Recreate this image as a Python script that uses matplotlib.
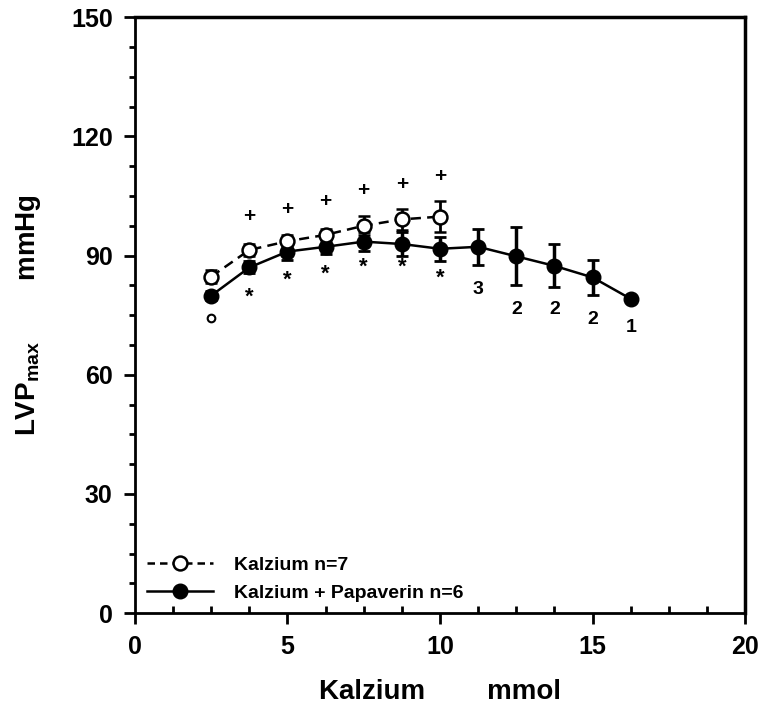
import matplotlib.pyplot as plt
from matplotlib.ticker import MultipleLocator
from matplotlib.lines import Line2D

plt.rcParams['font.family'] = ['Liberation Sans', 'DejaVu Sans']
plt.rcParams['font.weight'] = 'bold'

# Kalzium n=7 (offene Kreise)
x_ca = [2.5, 3.75, 5, 6.25, 7.5, 8.75, 10]
y_ca = [84.7, 91.4, 93.6, 95.2, 97.5, 99.1, 99.8]
err_ca = [1.6, 1.5, 1.5, 1.6, 2.4, 2.6, 3.8]

# Kalzium + Papaverin n=6 (gefuellte Kreise)
x_pap = [2.5, 3.75, 5, 6.25, 7.5, 8.75, 10, 11.25, 12.5, 13.75, 15, 16.25]
y_pap = [79.9, 87.0, 91.0, 92.2, 93.5, 92.9, 91.7, 92.2, 89.8, 87.4, 84.5, 79.1]
err_pap = [1.2, 1.5, 2.1, 1.9, 2.3, 2.9, 3.0, 4.5, 7.3, 5.4, 4.4, 0.0]

# Signifikanz-Marken
plus_x = [3.75, 5, 6.25, 7.5, 8.75, 10]
plus_y = [99.7, 101.5, 103.5, 106.3, 108.0, 109.8]
star_x = [3.75, 5, 6.25, 7.5, 8.75, 10]
star_y = [79.5, 83.8, 85.3, 87.0, 87.0, 84.2]
circ_x = [2.5]
circ_y = [74.4]
n_x = [11.25, 12.5, 13.75, 15, 16.25]
n_y = [81.5, 76.5, 76.5, 74.0, 71.8]
n_lab = ['3', '2', '2', '2', '1']

fig = plt.figure(figsize=(7.58, 7.13), dpi=100)
ax = fig.add_axes([0.178, 0.14, 0.805, 0.836])

ax.errorbar(x_ca, y_ca, yerr=err_ca, fmt='o--', color='black', mfc='white',
            mec='black', mew=1.8, ms=10, lw=1.8, capsize=4, capthick=2,
            elinewidth=2, dashes=(4, 2.5), zorder=3)
ax.errorbar(x_pap, y_pap, yerr=err_pap, fmt='o-', color='black', mfc='black',
            ms=10.5, lw=1.8, capsize=4, capthick=2, elinewidth=2.5, zorder=2)

for xx, yy in zip(plus_x, plus_y):
    ax.text(xx, yy, '+', ha='center', va='center', fontsize=15)
for xx, yy in zip(star_x, star_y):
    ax.text(xx, yy, '*', ha='center', va='center', fontsize=16)
ax.plot(circ_x, circ_y, 'o', mfc='white', mec='black', ms=5.5, mew=1.5)
for xx, yy, t in zip(n_x, n_y, n_lab):
    ax.text(xx, yy, t, ha='center', va='center', fontsize=14)

ax.set_xlim(0, 20)
ax.set_ylim(0, 150)
ax.xaxis.set_major_locator(MultipleLocator(5))
ax.xaxis.set_minor_locator(MultipleLocator(1.25))
ax.yaxis.set_major_locator(MultipleLocator(30))
ax.yaxis.set_minor_locator(MultipleLocator(7.5))
ax.tick_params(axis='x', which='major', direction='out', length=8,
               width=2, labelsize=18, pad=8)
ax.tick_params(axis='x', which='minor', direction='in', length=5, width=2)
ax.tick_params(axis='y', which='major', direction='out', length=8,
               width=2, labelsize=18, pad=8)
ax.tick_params(axis='y', which='minor', direction='out', length=4, width=2)
for lab in ax.get_xticklabels() + ax.get_yticklabels():
    lab.set_fontweight('bold')

ax.spines['left'].set_linewidth(2)
ax.spines['bottom'].set_linewidth(2)
ax.spines['top'].set_linewidth(2.5)
ax.spines['right'].set_linewidth(2.5)

ax.set_xlabel('Kalzium        mmol', fontsize=20, fontweight='bold', labelpad=14)
ax.set_ylabel(r'LVP$_{\mathregular{max}}$        mmHg', fontsize=20,
              fontweight='bold', labelpad=20)

handles = [
    Line2D([], [], color='black', ls='--', dashes=(3, 2), lw=1.8, marker='o',
           mfc='white', mec='black', mew=1.8, ms=10),
    Line2D([], [], color='black', ls='-', lw=1.8, marker='o', mfc='black',
           mec='black', ms=10.5),
]
ax.legend(handles, ['Kalzium n=7', 'Kalzium + Papaverin n=6'],
          loc='lower left', frameon=False, fontsize=14, handlelength=3.4,
          borderaxespad=0.2, handletextpad=1.1, labelspacing=0.5)

fig.savefig('out.png', dpi=100)
